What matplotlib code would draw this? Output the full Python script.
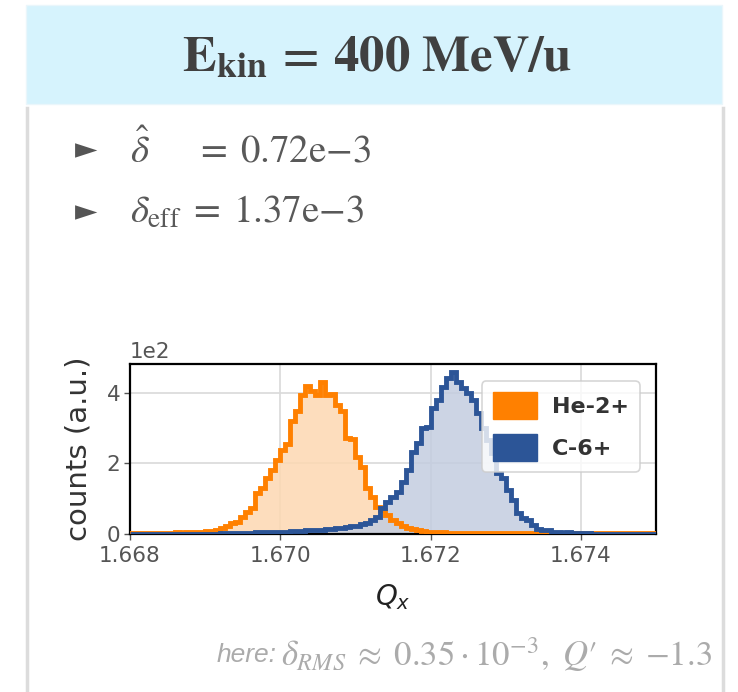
import numpy as np
import matplotlib.pyplot as plt
from matplotlib.patches import Rectangle
from matplotlib.lines import Line2D

# histogram binning in Q_x (bins of 1/15000 starting at 1.668)
q_start = 1.668
q_width = 1.0 / 15000.0

# He-2+ counts per bin
he_counts = [
    3, 2, 3, 3, 3, 4, 3, 4, 4, 5, 4, 5, 5, 6, 7, 8, 9, 11, 18, 22,
    30, 33, 48, 62, 75, 115, 130, 158, 182, 210, 238, 255, 320, 350, 395, 420, 405, 395, 430, 395,
    398, 365, 350, 272, 268, 218, 190, 130, 105, 76, 68, 55, 40, 30, 22, 17, 13, 10, 8, 7,
    6, 5, 5, 4, 4, 3, 3, 3, 3, 2, 2, 2, 2, 2, 2, 2, 2, 2, 2, 2,
    2, 2, 2, 2, 2, 2, 2, 2, 2, 2, 2, 2, 2, 2, 2, 2, 2, 2, 2, 2,
    2, 2, 2, 2, 2,
]

# C-6+ counts per bin
c_counts = [
    0, 0, 0, 0, 0, 0, 0, 0, 0, 0, 0, 0, 0, 0, 0, 0, 1, 1, 2, 2,
    3, 3, 4, 4, 4, 5, 5, 5, 6, 6, 7, 7, 8, 8, 9, 10, 10, 11, 12, 13,
    15, 17, 18, 20, 22, 24, 27, 32, 40, 47, 73, 91, 105, 119, 147, 181, 232, 258, 300, 303,
    357, 380, 417, 441, 459, 430, 413, 399, 380, 343, 300, 266, 229, 173, 159, 125, 96, 59, 45, 40,
    25, 15, 11, 10, 6, 5, 4, 5, 3, 3, 2, 2, 1, 1, 1, 0, 0, 0, 0, 0,
    0, 0, 0, 0, 0,
]

species = ['He-2+', 'C-6+']
line_colors = ['#ff8000', '#2c5597']
fill_colors = ['#fdd8b2', '#c3cde0']

x_ticks = [1.668, 1.670, 1.672, 1.674]
y_ticks = [0, 200, 400]

fig = plt.figure(figsize=(7.38, 6.92), dpi=100)

# slide-like frame: header box and side borders
fig.patches.append(Rectangle((26 / 738, 1 - 104 / 692), 696 / 738, 99 / 692,
                             transform=fig.transFigure, facecolor='#d6f3fd',
                             edgecolor='#eaf6fb', lw=1, zorder=0))
fig.add_artist(Line2D([27 / 738, 27 / 738], [0, 1 - 108 / 692], transform=fig.transFigure,
                      color='#dcdcdc', lw=2.5))
fig.add_artist(Line2D([723 / 738, 723 / 738], [0, 1 - 108 / 692], transform=fig.transFigure,
                      color='#dcdcdc', lw=2.5))

fig.text(377 / 738, 1 - 57 / 692, r'$\mathbf{E_{kin}\,=\,400\ MeV/u}$', ha='center', va='center',
         fontsize=36.5, color='#404040', math_fontfamily='stix')

# bullet lines
for y_px, txt in [(150, r'$\hat{\delta}\qquad\!\! =\; 0.72\mathrm{e}{-}3$'),
                  (212, r'$\delta_{\mathrm{eff}}\; =\; 1.37\mathrm{e}{-}3$')]:
    fig.text(86 / 738, 1 - y_px / 692, '\u25ba', ha='center', va='center', fontsize=21, color='#555555')
    fig.text(130 / 738, 1 - y_px / 692, txt, ha='left', va='center', fontsize=28,
             color='#595959', math_fontfamily='stix')

ax = fig.add_axes([130 / 738, 1 - 534 / 692, 526 / 738, 170 / 692])

edges = q_start + q_width * np.arange(len(he_counts) + 1)
for counts, lc, fc, name in zip([he_counts, c_counts], line_colors, fill_colors, species):
    ax.stairs(counts, edges, fill=True, color=fc, alpha=0.85, zorder=2)
    ax.stairs(counts, edges, color=lc, lw=3.5, zorder=3)

ax.set_xlim(1.668, 1.675)
ax.set_ylim(0, 482)
ax.set_xticks(x_ticks)
ax.set_xticklabels([f'{t:.3f}' for t in x_ticks])
ax.set_yticks(y_ticks)
ax.set_yticklabels([str(t // 100) for t in y_ticks])
ax.text(0, 1.01, '1e2', transform=ax.transAxes, ha='left', va='bottom', fontsize=15.5, color='#555555')
ax.grid(True, color='#d9d9d9', lw=1.2, zorder=0)
ax.set_axisbelow(True)
ax.tick_params(labelsize=15.5, colors='#555555', length=4, width=1)
ax.tick_params(axis='x', pad=5)
ax.tick_params(axis='y', pad=3)
for s in ax.spines.values():
    s.set_color('black')
    s.set_linewidth(1.6)
ax.set_ylabel('counts (a.u.)', fontsize=21, color='#333333', labelpad=10)
ax.set_xlabel(r'$Q_x$', fontsize=20, color='#222222', labelpad=11)

handles = [Rectangle((0, 0), 1, 1, facecolor=c, edgecolor=c) for c in line_colors]
leg = ax.legend(handles, species, loc='upper right', bbox_to_anchor=(0.99, 0.965),
                prop={'weight': 'bold', 'size': 16}, labelcolor='#333333',
                framealpha=0.8, edgecolor='#cccccc', fancybox=True,
                handlelength=2.0, handleheight=1.45, handletextpad=0.65,
                borderpad=0.5, labelspacing=0.7)
leg.get_frame().set_linewidth(1.2)

# footnote
note = fig.text(712 / 738, 1 - 655 / 692,
                r"$\delta_{RMS}\; \approx\; 0.35\cdot 10^{-3},\ Q{\prime}\; \approx\; {-}1.3$",
                ha='right', va='center', fontsize=25, color='#ababab', math_fontfamily='stix')
fig.add_artist(plt.Annotation('here:', xy=(0, 0.5), xycoords=note, xytext=(-3, 0),
                              textcoords='offset points', ha='right', va='center',
                              fontsize=19, style='italic', color='#ababab',
                              family='Liberation Sans'))

fig.savefig('out.png', dpi=100)
